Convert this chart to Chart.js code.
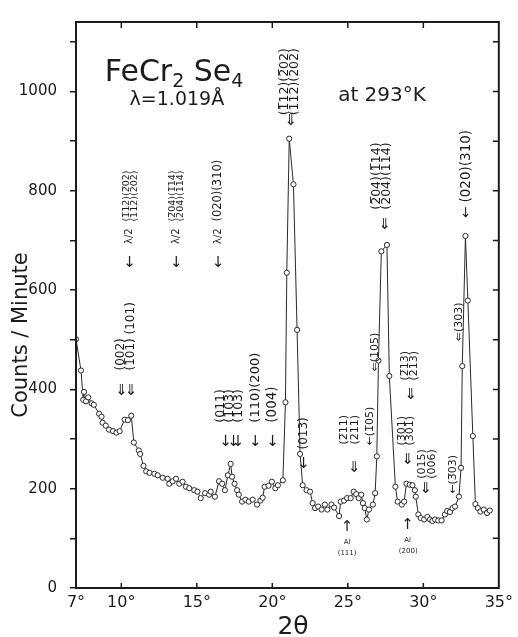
<!DOCTYPE html>
<html>
<head>
<meta charset="utf-8">
<script src="https://cdn.jsdelivr.net/npm/chart.js@4.4.1/dist/chart.umd.min.js"></script>
<style>
    html, body { margin: 0; padding: 0; background: #ffffff; }
    #xrdChart { display: block; }
</style>
</head>
<body>
<canvas id="xrdChart" width="518" height="637"></canvas>
<script>
const angles = [
    7.00, 7.33, 7.48, 7.53, 7.66, 7.81, 8.03, 8.18, 8.53, 8.69, 8.76, 8.97, 9.19, 9.45, 9.68, 9.89,
    10.22, 10.44, 10.66, 10.83, 11.16, 11.25, 11.47, 11.65, 11.87, 12.19, 12.41, 12.74, 13.07, 13.18,
    13.40, 13.62, 13.84, 14.06, 14.28, 14.50, 14.83, 15.04, 15.26, 15.55, 15.81, 15.92, 16.20, 16.47,
    16.68, 16.86, 17.06, 17.24, 17.34, 17.50, 17.67, 17.78, 18.00, 18.22, 18.44, 18.70, 18.99, 19.21,
    19.36, 19.49, 19.75, 19.97, 20.20, 20.37, 20.70, 20.87, 20.96, 21.12, 21.40, 21.64, 21.84, 22.01,
    22.27, 22.50, 22.67, 22.83, 23.04, 23.26, 23.48, 23.65, 23.92, 24.09, 24.42, 24.53, 24.75, 24.95,
    25.19, 25.39, 25.56, 25.72, 25.89, 26.00, 26.12, 26.26, 26.40, 26.66, 26.81, 26.92, 27.03, 27.22,
    27.59, 27.75, 28.15, 28.30, 28.58, 28.73, 28.88, 29.10, 29.28, 29.44, 29.50, 29.67, 29.83, 30.05,
    30.27, 30.44, 30.60, 30.78, 30.99, 31.21, 31.43, 31.58, 31.76, 31.93, 32.10, 32.36, 32.50, 32.58,
    32.79, 32.95, 33.28, 33.45, 33.61, 33.78, 34.00, 34.22, 34.40
];

const counts = [
    501, 438, 379, 395, 376, 384, 372, 369, 351, 345, 333, 327, 319, 316, 313, 316,
    339, 338, 347, 293, 277, 270, 246, 235, 232, 230, 227, 222, 220, 210,
    215, 220, 210, 214, 204, 201, 197, 194, 181, 191, 188, 194, 184, 215,
    210, 197, 227, 250, 224, 210, 197, 188, 174, 178, 174, 178, 168, 176,
    182, 204, 206, 214, 201, 207, 217, 374, 635, 905, 813, 520, 270, 207,
    197, 194, 171, 161, 164, 158, 168, 158, 168, 162, 145, 174, 176, 181,
    181, 194, 189, 181, 188, 171, 161, 138, 158, 168, 191, 265, 458, 678,
    691, 427, 204, 174, 168, 174, 210, 208, 207, 197, 184, 148, 141, 138,
    143, 138, 135, 138, 136, 136, 148, 155, 153, 161, 164, 184, 242, 447,
    709, 579, 306, 169, 161, 154, 158, 151, 156
];

const xTickValues = [7, 10, 15, 20, 25, 30, 35];
const yTickValues = [0, 100, 200, 300, 400, 500, 600, 700, 800, 900, 1000, 1100];

// rotated reflection labels: anchored at the bottom of the text, lines side by side
const reflectionLabels = [
    { x: 10.62, y: 738, size: 9.5, gap: 8, lines: ["(1\u030512)(2\u030502)", "(112)(202)"] },
    { x: 10.55, y: 693, size: 10, gap: 0, lines: ["\u03bb/2"] },
    { x: 13.64, y: 738, size: 9.5, gap: 8, lines: ["(2\u030504)(1\u030514)", "(204)(114)"] },
    { x: 13.64, y: 693, size: 10, gap: 0, lines: ["\u03bb/2"] },
    { x: 16.38, y: 738, size: 11.5, gap: 0, lines: ["(020)(310)"] },
    { x: 16.40, y: 693, size: 10, gap: 0, lines: ["\u03bb/2"] },
    { x: 10.00, y: 438, size: 12, gap: 0, lines: ["(002)"] },
    { x: 10.62, y: 438, size: 12, gap: 0, lines: ["(1\u030501) (101)"] },
    { x: 16.60, y: 333, size: 12.5, gap: 0, lines: ["(011)"] },
    { x: 17.20, y: 333, size: 12.5, gap: 0, lines: ["(1\u030503)"] },
    { x: 17.78, y: 333, size: 12.5, gap: 0, lines: ["(103)"] },
    { x: 18.90, y: 333, size: 13, gap: 0, lines: ["(110)(200)"] },
    { x: 20.02, y: 333, size: 13.5, gap: 0, lines: ["(004)"] },
    { x: 22.12, y: 279, size: 12, gap: 0, lines: ["(013)"] },
    { x: 25.15, y: 289, size: 11, gap: 11, lines: ["(2\u030511)", "(211)"] },
    { x: 26.46, y: 287, size: 11, gap: 0, lines: ["\u2190(1\u030505)"] },
    { x: 26.79, y: 436, size: 11, gap: 0, lines: ["\u21d0(105)"] },
    { x: 28.89, y: 287, size: 11, gap: 8, lines: ["(3\u030501)", "(301)"] },
    { x: 29.09, y: 418, size: 11, gap: 9, lines: ["(2\u030513)", "(213)"] },
    { x: 30.27, y: 220, size: 11, gap: 10, lines: ["(015)", "(006)"] },
    { x: 31.95, y: 190, size: 11, gap: 0, lines: ["\u2190(3\u030503)"] },
    { x: 32.38, y: 497, size: 11, gap: 0, lines: ["\u21d0(303)"] },
    { x: 32.84, y: 745, size: 13.5, gap: 0, lines: ["\u2190 (020)(310)"] },
    { x: 21.13, y: 952, size: 12.5, gap: 10, lines: ["(1\u030512)(2\u030502)", "(112)(202)"] },
    { x: 27.25, y: 762, size: 12.5, gap: 10, lines: ["(2\u030504)(1\u030514)", "(204)(114)"] }
];

const arrowMarks = [
    { x: 10.55, y: 655, glyph: "\u2193" },
    { x: 13.64, y: 655, glyph: "\u2193" },
    { x: 16.40, y: 655, glyph: "\u2193" },
    { x: 10.00, y: 396, glyph: "\u21d3" },
    { x: 10.62, y: 396, glyph: "\u21d3" },
    { x: 16.90, y: 293, glyph: "\u2193" },
    { x: 17.57, y: 293, glyph: "\u21ca" },
    { x: 18.88, y: 293, glyph: "\u2193" },
    { x: 20.02, y: 293, glyph: "\u2193" },
    { x: 22.06, y: 250, glyph: "\u2193" },
    { x: 25.41, y: 242, glyph: "\u21d3" },
    { x: 28.96, y: 257, glyph: "\u21d3" },
    { x: 29.16, y: 388, glyph: "\u21d3" },
    { x: 30.14, y: 200, glyph: "\u21d3" },
    { x: 21.20, y: 941, glyph: "\u21d3" },
    { x: 27.43, y: 731, glyph: "\u21d3" },
    { x: 24.95, y: 123, glyph: "\u2191" },
    { x: 28.96, y: 127, glyph: "\u2191" }
];

const smallNotes = [
    { x: 24.95, y: 93, text: "Al" },
    { x: 24.95, y: 71, text: "(111)" },
    { x: 28.96, y: 97, text: "Al" },
    { x: 29.00, y: 75, text: "(200)" }
];

document.addEventListener("DOMContentLoaded", function () {
    const canvas = document.getElementById("xrdChart");
    const points = angles.map((a, i) => ({ x: a, y: counts[i] }));
    const ink = "#1c1c1c";

    Chart.defaults.font.family = "'DejaVu Sans', sans-serif";
    Chart.defaults.color = ink;

    const framePlugin = {
        id: "framePlugin",
        afterDraw(chart) {
            const ctx = chart.ctx;
            const area = chart.chartArea;
            const xs = chart.scales.x;
            const ys = chart.scales.y;

            ctx.save();
            ctx.strokeStyle = ink;
            ctx.lineWidth = 2;
            ctx.strokeRect(area.left, area.top, area.right - area.left, area.bottom - area.top);

            ctx.lineWidth = 1.5;
            ctx.beginPath();
            xTickValues.slice(1, -1).forEach(v => {
                const px = xs.getPixelForValue(v);
                ctx.moveTo(px, area.top);
                ctx.lineTo(px, area.top + 6);
                ctx.moveTo(px, area.bottom);
                ctx.lineTo(px, area.bottom - 5);
            });
            yTickValues.slice(1).forEach(v => {
                const py = ys.getPixelForValue(v);
                ctx.moveTo(area.right, py);
                ctx.lineTo(area.right - 6, py);
            });
            ctx.stroke();

            // axis titles
            ctx.fillStyle = ink;
            ctx.textAlign = "center";
            ctx.textBaseline = "middle";
            ctx.save();
            ctx.translate(22, 335);
            ctx.rotate(-Math.PI / 2);
            ctx.font = "21px 'DejaVu Sans'";
            ctx.fillText("Counts / Minute", 0, 0);
            ctx.restore();

            ctx.font = "25px 'DejaVu Sans'";
            ctx.textBaseline = "alphabetic";
            ctx.fillText("2\u03b8", 293, 634);

            // sample name and conditions
            ctx.textAlign = "left";
            let cx = xs.getPixelForValue(8.91);
            const cy = ys.getPixelForValue(1022);
            [["FeCr", 30, 0], ["2", 19, 6], [" Se", 30, 0], ["4", 19, 6]].forEach(part => {
                ctx.font = part[1] + "px 'DejaVu Sans'";
                ctx.fillText(part[0], cx, cy + part[2]);
                cx += ctx.measureText(part[0]).width;
            });
            ctx.font = "19px 'DejaVu Sans'";
            ctx.fillText("\u03bb=1.019\u00c5", xs.getPixelForValue(10.55), ys.getPixelForValue(972));
            ctx.font = "20px 'DejaVu Sans'";
            ctx.fillText("at 293\u00b0K", xs.getPixelForValue(24.36), ys.getPixelForValue(980));

            // reflection labels
            ctx.textBaseline = "middle";
            reflectionLabels.forEach(label => {
                ctx.font = label.size + "px 'DejaVu Sans'";
                const n = label.lines.length;
                label.lines.forEach((line, i) => {
                    const px = xs.getPixelForValue(label.x) + (i - (n - 1) / 2) * label.gap;
                    const py = ys.getPixelForValue(label.y);
                    ctx.save();
                    ctx.translate(px, py);
                    ctx.rotate(-Math.PI / 2);
                    ctx.textAlign = "left";
                    ctx.fillText(line, 0, 0);
                    ctx.restore();
                });
            });

            ctx.textAlign = "center";
            ctx.font = "15px 'DejaVu Sans'";
            arrowMarks.forEach(mark => {
                ctx.fillText(mark.glyph, xs.getPixelForValue(mark.x), ys.getPixelForValue(mark.y));
            });

            ctx.font = "7px 'DejaVu Sans'";
            smallNotes.forEach(note => {
                ctx.fillText(note.text, xs.getPixelForValue(note.x), ys.getPixelForValue(note.y));
            });
            ctx.restore();
        }
    };

    new Chart(canvas, {
        type: "line",
        data: {
            datasets: [{
                data: points,
                borderColor: "#2a2a2a",
                borderWidth: 1,
                pointRadius: 2.6,
                pointBackgroundColor: "#ffffff",
                pointBorderColor: "#2a2a2a",
                pointBorderWidth: 1,
                tension: 0,
                fill: false
            }]
        },
        options: {
            responsive: false,
            animation: false,
            events: [],
            layout: {
                padding: { top: 13, right: 16, left: 0, bottom: 0 }
            },
            plugins: {
                legend: { display: false },
                tooltip: { enabled: false }
            },
            scales: {
                x: {
                    type: "linear",
                    min: 7,
                    max: 35,
                    afterBuildTicks: function (scale) {
                        scale.ticks = xTickValues.map(v => ({ value: v }));
                    },
                    afterFit: function (scale) {
                        scale.height = 49;
                    },
                    grid: { drawOnChartArea: false, drawTicks: false },
                    border: { display: true, color: ink, width: 2 },
                    ticks: {
                        padding: 5,
                        maxRotation: 0,
                        autoSkip: false,
                        font: { size: 16 },
                        callback: function (value) {
                            return value + "\u00b0";
                        }
                    }
                },
                y: {
                    type: "linear",
                    min: 0,
                    max: 1140,
                    afterBuildTicks: function (scale) {
                        scale.ticks = yTickValues.map(v => ({ value: v }));
                    },
                    afterFit: function (scale) {
                        scale.width = 76;
                    },
                    grid: { drawOnChartArea: false, drawTicks: true, tickLength: 6, color: ink, lineWidth: 1.5 },
                    border: { display: true, color: ink, width: 2 },
                    ticks: {
                        padding: 13,
                        autoSkip: false,
                        font: { size: 15 },
                        callback: function (value) {
                            return value % 200 === 0 ? String(value) : "";
                        }
                    }
                }
            }
        },
        plugins: [framePlugin]
    });
});
</script>
</body>
</html>
